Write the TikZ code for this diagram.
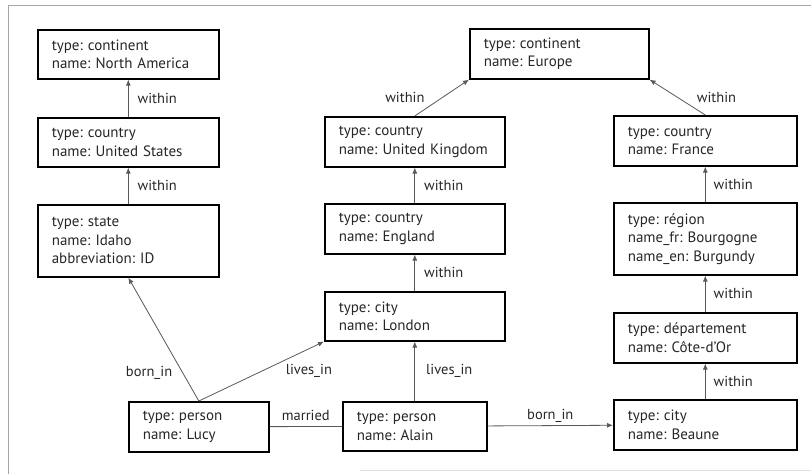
\documentclass[tikz,border=0pt]{standalone}
\usepackage{fontspec}
\setmainfont{PT Sans}
\usetikzlibrary{arrows.meta}
\newcommand\bxline[1]{\mbox{#1}}
\begin{document}
\frenchspacing
\begin{tikzpicture}[x=1pt,y=-1pt,
  box/.style={draw=black, line width=1.6pt, anchor=north west, inner xsep=14pt, inner ysep=0pt, align=left, font=\fontsize{15}{18.5}\selectfont, text=black!85},
  edge/.style={draw=black!65, line width=0.8pt, -{Latex[length=6pt,width=5pt]}},
  plainedge/.style={draw=black!65, line width=0.8pt},
  lbl/.style={font=\fontsize{14.5}{17}\selectfont, inner sep=0pt, text=black!85}]
\useasboundingbox (0,0) rectangle (811,474);
% frame
\draw[black!35, line width=1pt] (811,5) -- (8,5) -- (8,474);
\draw[black!12, line width=0.8pt] (360,470) -- (811,470);
% nodes
\node[box, text width=153pt, minimum height=49pt] (na) at (37,29) {\bxline{type: continent}\\\bxline{name: North America}};
\node[box, text width=153pt, minimum height=49pt] (us) at (37,117) {\bxline{type: country}\\\bxline{name: United States}};
\node[box, text width=153pt, minimum height=72pt] (idaho) at (37,204) {\bxline{type: state}\\\bxline{name: Idaho}\\\bxline{abbreviation: ID}};
\node[box, text width=151pt, minimum height=50pt] (eu) at (469,28) {\bxline{type: continent}\\\bxline{name: Europe}};
\node[box, text width=152pt, minimum height=50pt] (uk) at (324,116) {\bxline{type: country}\\\bxline{name: United Kingdom}};
\node[box, text width=152pt, minimum height=50pt] (eng) at (324,203) {\bxline{type: country}\\\bxline{name: England}};
\node[box, text width=152pt, minimum height=49pt] (lon) at (324,291) {\bxline{type: city}\\\bxline{name: London}};
\node[box, text width=155pt, minimum height=50pt] (fr) at (613,115) {\bxline{type: country}\\\bxline{name: France}};
\node[box, text width=155pt, minimum height=72pt] (reg) at (613,202) {\bxline{type: région}\\\bxline{name\_fr: Bourgogne}\\\bxline{name\_en: Burgundy}};
\node[box, text width=155pt, minimum height=50pt] (dep) at (613,312) {\bxline{type: département}\\\bxline{name: Côte-d’Or}};
\node[box, text width=155pt, minimum height=50pt] (bea) at (613,399) {\bxline{type: city}\\\bxline{name: Beaune}};
\node[box, text width=112pt, minimum height=50pt] (lucy) at (128,401) {\bxline{type: person}\\\bxline{name: Lucy}};
\node[box, text width=116pt, minimum height=49pt] (alain) at (342,401) {\bxline{type: person}\\\bxline{name: Alain}};
% edges
\draw[edge] (us) -- node[lbl, anchor=west, xshift=9pt]{within} (na);
\draw[edge] (idaho) -- node[lbl, anchor=west, xshift=9pt]{within} (us);
\draw[edge] (uk.north) -- node[lbl, anchor=east, xshift=-17pt]{within} (eu.south west);
\draw[edge] (eng) -- node[lbl, anchor=west, xshift=9pt]{within} (uk);
\draw[edge] (lon) -- node[lbl, anchor=west, xshift=9pt]{within} (eng);
\draw[edge] (fr.north) -- node[lbl, anchor=west, xshift=19pt]{within} (eu.south east);
\draw[edge] (reg) -- node[lbl, anchor=west, xshift=8pt]{within} (fr);
\draw[edge] (dep) -- node[lbl, anchor=west, xshift=8pt]{within} (reg);
\draw[edge] (bea) -- node[lbl, anchor=west, xshift=8pt]{within} (dep);
\draw[edge] (lucy.north) -- node[lbl, pos=0.23, anchor=east, xshift=-10pt]{born\_in} (idaho.south);
\draw[edge] (lucy.north) -- node[lbl, anchor=west, xshift=24pt]{lives\_in} (lon.south west);
\draw[edge] (alain) -- node[lbl, anchor=west, xshift=11pt]{lives\_in} (lon);
\draw[plainedge] (lucy) -- node[lbl, anchor=base, yshift=6.5pt]{married} (alain);
\draw[edge] (alain) -- node[lbl, anchor=base, yshift=6.5pt]{born\_in} (bea);
\end{tikzpicture}
\end{document}
